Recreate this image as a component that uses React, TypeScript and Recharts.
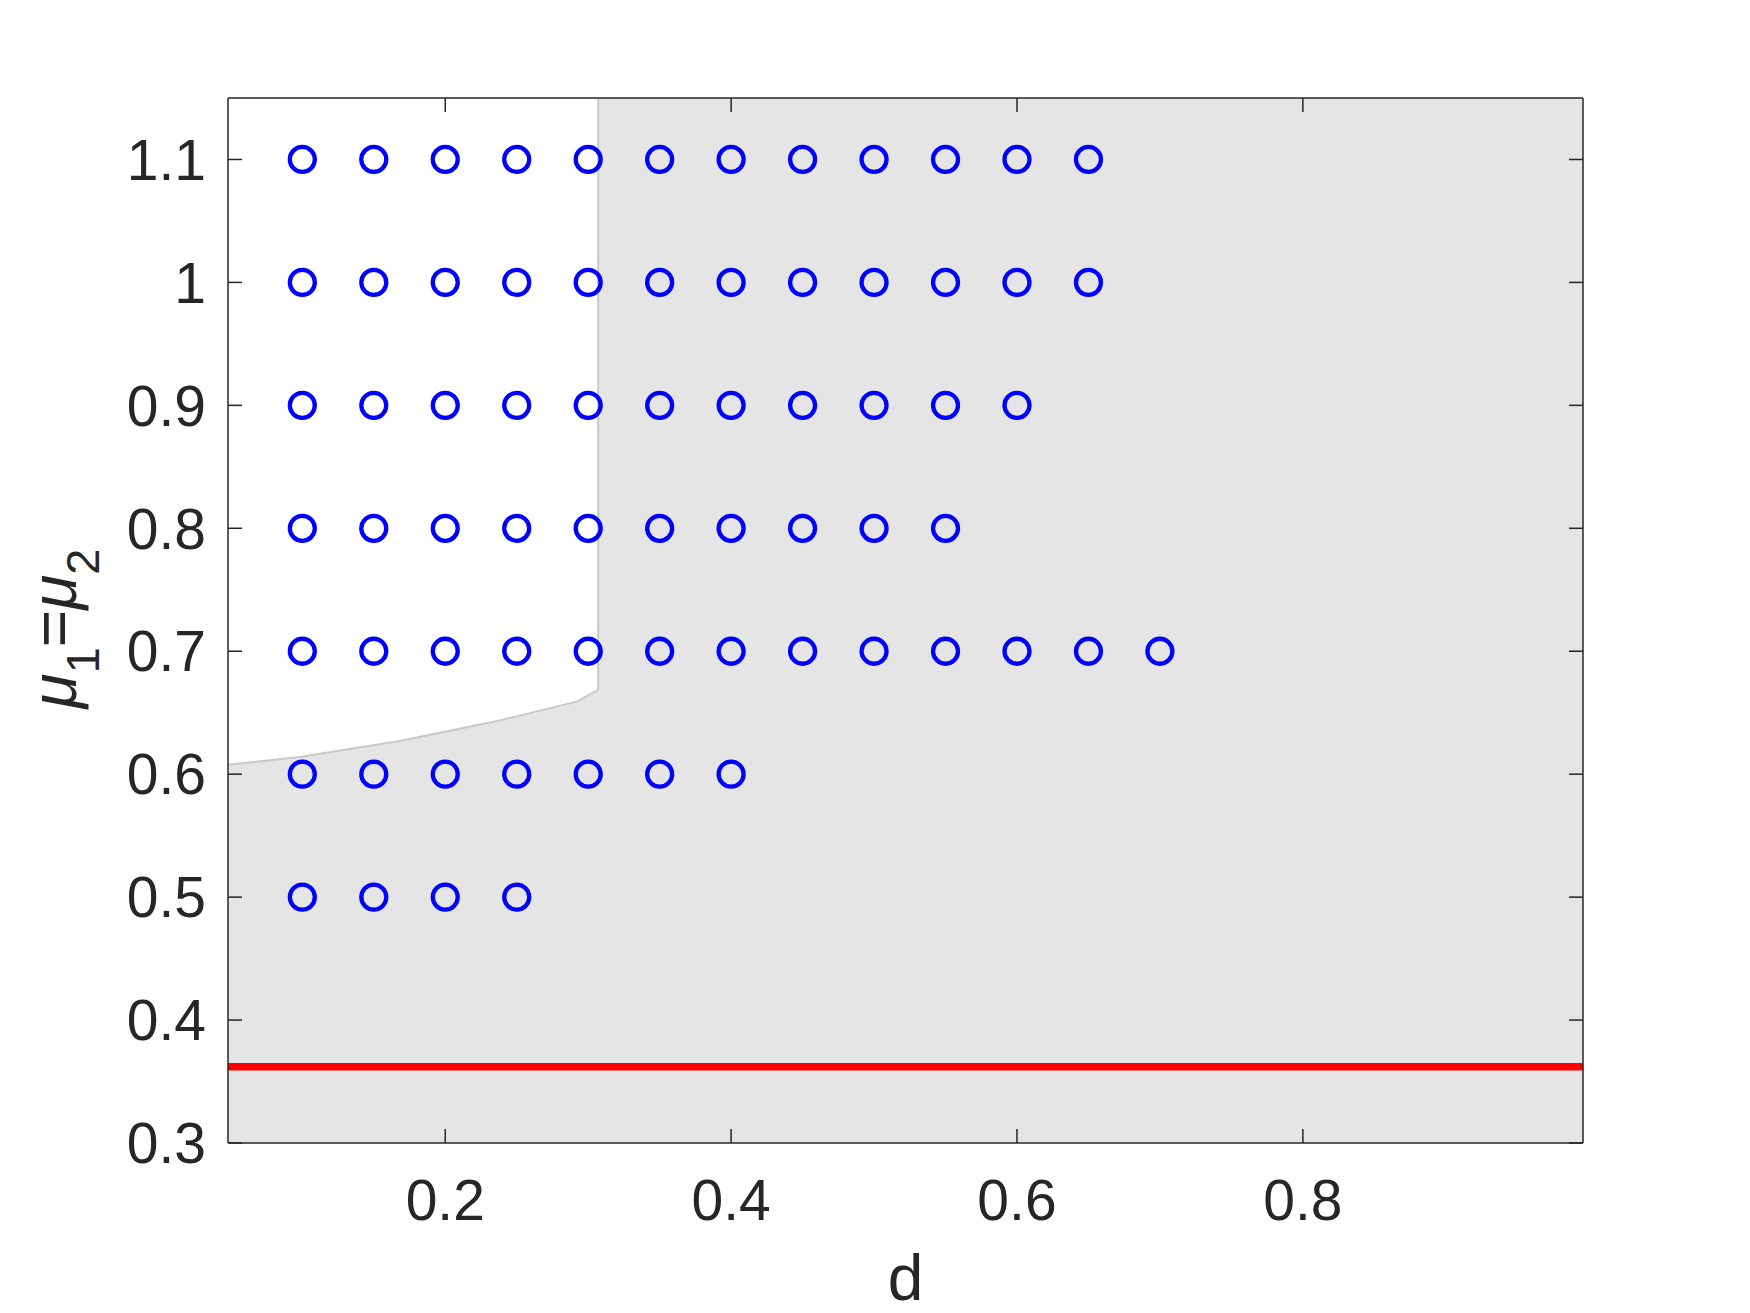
import {
  ComposedChart, XAxis, YAxis, Scatter, Area, Line,
  CartesianGrid, ReferenceLine,
} from 'recharts';

// grid of simulated parameter pairs
const D_STEPS = [0.1, 0.15, 0.2, 0.25, 0.3, 0.35, 0.4, 0.45, 0.5, 0.55, 0.6, 0.65, 0.7];
const MU_ROWS = [1.1, 1.0, 0.9, 0.8, 0.7, 0.6, 0.5];
const ROW_LAST_D = [0.65, 0.65, 0.6, 0.55, 0.7, 0.4, 0.25];

// boundary of the white (unshaded) region
const EDGE_D = [0.048, 0.098, 0.168, 0.238, 0.292, 0.307];
const EDGE_MU = [0.6076, 0.614, 0.627, 0.6436, 0.659, 0.6685];
const MU_TOP = 1.15;

const THRESHOLD_MU = 0.362;

const X_DOMAIN = [0.048, 0.996];
const Y_DOMAIN = [0.3, 1.15];
const X_TICKS = [0.2, 0.4, 0.6, 0.8];
const Y_TICKS = [0.3, 0.4, 0.5, 0.6, 0.7, 0.8, 0.9, 1, 1.1];

const FONT = '"Liberation Sans", Arial, Helvetica, sans-serif';
const INK = '#262626';
const TICK_LEN = 14;

const points = MU_ROWS.flatMap((mu, i) =>
  D_STEPS.filter((d) => d <= ROW_LAST_D[i] + 1e-9).map((d) => ({ d, mu }))
);

const whiteBand = EDGE_D.map((d, i) => ({ d, band: [EDGE_MU[i], MU_TOP] }));
const edgeLine = [
  ...EDGE_D.map((d, i) => ({ d, mu: EDGE_MU[i] })),
  { d: EDGE_D[EDGE_D.length - 1], mu: MU_TOP },
];

function Ring(props: any) {
  const { cx, cy } = props;
  if (cx == null || cy == null) return <g />;
  return <circle cx={cx} cy={cy} r={12.5} fill="none" stroke="#0000ff" strokeWidth={4.3} />;
}

// short inward tick at the top edge for a vertical reference line
function TopTick(props: any) {
  const x = props.x1;
  const top = Math.min(props.y1, props.y2);
  return <line x1={x} x2={x} y1={top} y2={top + TICK_LEN} stroke={INK} strokeWidth={1.5} />;
}

// short inward tick at the right edge for a horizontal reference line
function RightTick(props: any) {
  const y = props.y1;
  const right = Math.max(props.x1, props.x2);
  return <line x1={right - TICK_LEN} x2={right} y1={y} y2={y} stroke={INK} strokeWidth={1.5} />;
}

function YLabel(props: any) {
  const vb = props.viewBox || { x: 0, y: 98, width: 228, height: 1045 };
  const x = vb.x + 76;
  const y = vb.y + vb.height / 2 + 8;
  return (
    <text
      x={x}
      y={y}
      transform={`rotate(-90, ${x}, ${y})`}
      textAnchor="middle"
      fill={INK}
      fontFamily={FONT}
      fontSize={64}
    >
      <tspan fontStyle="italic">μ</tspan>
      <tspan fontSize={47} dy={23}>1</tspan>
      <tspan dy={-23}>=</tspan>
      <tspan fontStyle="italic">μ</tspan>
      <tspan fontSize={47} dy={23}>2</tspan>
    </text>
  );
}

export default function App() {
  const tickStyle = { fontSize: 57, fill: INK, fontFamily: FONT };
  const axisLine = { stroke: INK, strokeWidth: 1.5 };
  return (
    <div style={{ position: 'absolute', left: 0, top: 0, background: '#fff' }}>
      <ComposedChart width={1750} height={1313} margin={{ top: 98, right: 167, left: 0, bottom: 0 }}>
        <CartesianGrid horizontal={false} vertical={false} fill="#e5e5e5" stroke="none" />
        <Area
          data={whiteBand}
          dataKey="band"
          type="linear"
          fill="#ffffff"
          fillOpacity={1}
          stroke="none"
          isAnimationActive={false}
        />
        <Line
          data={edgeLine}
          dataKey="mu"
          type="linear"
          stroke="#c9c9c9"
          strokeWidth={2}
          dot={false}
          activeDot={false}
          isAnimationActive={false}
        />
        <ReferenceLine y={THRESHOLD_MU} stroke="#ff0000" strokeWidth={7.5} />
        <Scatter data={points} dataKey="mu" shape={<Ring />} isAnimationActive={false} />
        {/* box edges and their inward ticks */}
        <ReferenceLine y={Y_DOMAIN[1]} stroke={INK} strokeWidth={1.5} />
        <ReferenceLine x={X_DOMAIN[1]} stroke={INK} strokeWidth={1.5} />
        {X_TICKS.map((t) => (
          <ReferenceLine key={`tx${t}`} x={t} shape={<TopTick />} />
        ))}
        {Y_TICKS.map((t) => (
          <ReferenceLine key={`ty${t}`} y={t} shape={<RightTick />} />
        ))}
        <XAxis
          type="number"
          dataKey="d"
          domain={X_DOMAIN}
          allowDataOverflow
          ticks={X_TICKS}
          interval={0}
          height={170}
          tickSize={-TICK_LEN}
          tickMargin={51}
          tick={tickStyle}
          axisLine={axisLine}
          tickLine={axisLine}
          label={{ value: 'd', position: 'insideBottom', offset: 13, fontSize: 64, fill: INK, fontFamily: FONT }}
        />
        <YAxis
          type="number"
          domain={Y_DOMAIN}
          allowDataOverflow
          ticks={Y_TICKS}
          interval={0}
          width={228}
          tickSize={-TICK_LEN}
          tickMargin={36}
          tick={tickStyle}
          tickFormatter={(v) => String(v)}
          axisLine={axisLine}
          tickLine={axisLine}
          label={<YLabel />}
        />
      </ComposedChart>
    </div>
  );
}
